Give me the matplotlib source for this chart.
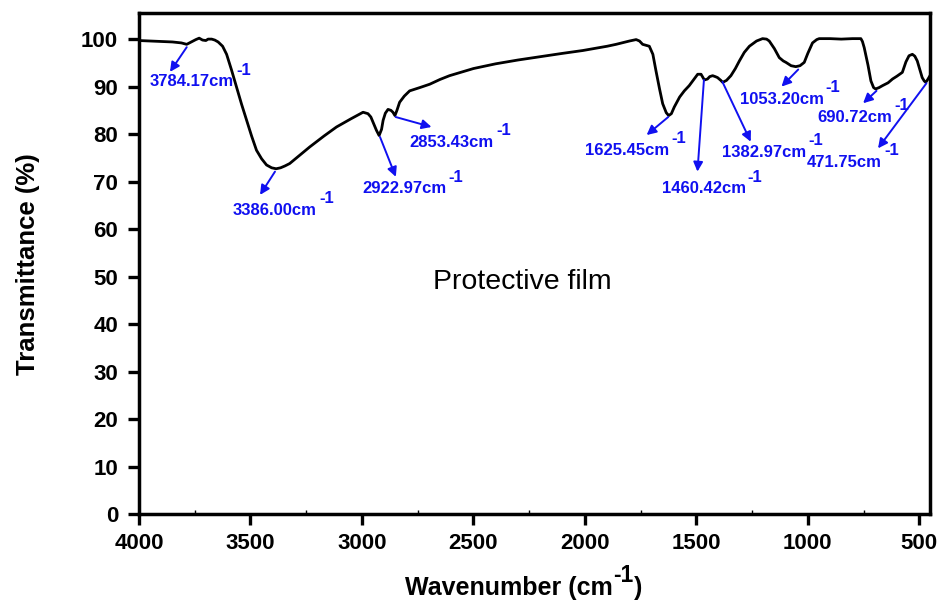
import numpy as np
import matplotlib
matplotlib.use("Agg")
import matplotlib.pyplot as plt
from matplotlib.ticker import MultipleLocator

plt.rcParams['font.family'] = ['Liberation Sans', 'DejaVu Sans']

# ---- спектр ----
wavenumber = [
    4000, 3950, 3900, 3850, 3810, 3786, 3765, 3745, 3730, 3715, 3700, 3690,
    3674, 3660, 3645, 3625, 3607, 3585, 3562, 3540, 3517, 3495, 3473, 3450,
    3428, 3405, 3385, 3365, 3345, 3324, 3280, 3234, 3170, 3114, 3050, 2995,
    2973, 2960, 2950, 2935, 2923, 2912, 2905, 2895, 2883, 2870, 2861, 2852,
    2843, 2831, 2810, 2786, 2740, 2696, 2650, 2607, 2500, 2400, 2300, 2200,
    2100, 2009, 1900, 1860, 1800, 1770, 1755, 1741, 1711, 1695, 1681, 1665,
    1651, 1635, 1624, 1612, 1599, 1575, 1554, 1532, 1510, 1494, 1479, 1464,
    1450, 1440, 1427, 1415, 1405, 1390, 1382, 1365, 1345, 1325, 1307, 1285,
    1262, 1230, 1203, 1185, 1173, 1150, 1128, 1110, 1098, 1075, 1054, 1035,
    1016, 1000, 979, 960, 949, 900, 850, 800, 762, 755, 747, 730, 717, 705,
    696, 680, 665, 640, 620, 600, 576, 560, 546, 531, 520, 509, 497, 487,
    478, 471, 462, 452]
transmittance = [
    99.7, 99.6, 99.5, 99.4, 99.2, 98.9, 99.4, 99.9, 100.2, 99.8, 99.7, 100.0,
    100.0, 99.8, 99.4, 98.5, 96.8, 93.5, 89.8, 86.3, 82.9, 79.6, 76.6, 74.8,
    73.5, 72.9, 72.7, 72.9, 73.3, 73.8, 75.5, 77.3, 79.6, 81.5, 83.2, 84.6,
    84.3, 83.6, 82.5, 80.8, 79.7, 81.0, 82.9, 84.4, 85.2, 85.0, 84.6, 83.9,
    85.0, 86.7, 88.0, 89.1, 89.8, 90.5, 91.5, 92.3, 93.8, 94.8, 95.6, 96.3,
    97.0, 97.6, 98.5, 98.9, 99.6, 99.9, 99.6, 98.9, 98.5, 96.8, 93.3, 89.5,
    86.4, 84.5, 83.9, 84.3, 85.7, 87.8, 89.1, 90.2, 91.6, 92.6, 92.6, 91.4,
    91.6, 92.1, 92.3, 92.1, 91.9, 91.3, 90.9, 91.3, 92.3, 93.8, 95.4, 97.2,
    98.5, 99.6, 100.1, 100.0, 99.6, 98.0, 96.1, 95.4, 95.1, 94.4, 94.2, 94.4,
    95.1, 97.0, 99.2, 99.9, 100.1, 100.1, 100.0, 100.1, 100.1, 99.5, 98.2,
    94.5, 91.2, 89.8, 89.5, 89.8, 90.2, 90.8, 91.6, 92.2, 93.0, 95.2, 96.5,
    96.8, 96.4, 95.4, 93.5, 91.9, 91.2, 90.9, 91.5, 92.3]

# ---- подписи пиков ----
peak_labels = ["3784.17", "3386.00", "2922.97", "2853.43", "1625.45",
               "1460.42", "1382.97", "1053.20", "690.72", "471.75"]
# начало стрелки (на кривой) и конец стрелки
arrow_tail = [(3786, 98.3), (3390, 72.1), (2919, 79.4), (2849, 83.6),
              (1626, 83.6), (1466, 91.4), (1383, 91.0), (1043, 93.6),
              (692, 89.1), (468, 90.7)]
arrow_head = [(3861, 93.1), (3457, 67.2), (2848, 71.0), (2688, 81.5),
              (1723, 79.8), (1495, 72.1), (1256, 78.4), (1118, 90.0),
              (752, 86.5), (685, 77.0)]
label_pos = [(3951, 91.0), (3578, 64.0), (3000, 68.5), (2785, 78.3),
             (2000, 76.6), (1655, 68.5), (1386, 76.2), (1305, 87.3),
             (955, 83.5), (1004, 74.1)]

BLUE = '#1010f0'

fig = plt.figure(figsize=(9.43, 6.07), dpi=100)
ax = fig.add_axes([0.1474, 0.1532, 0.8388, 0.8254])

ax.plot(wavenumber, transmittance, color='black', lw=2.0)

for name, tail, head, lp in zip(peak_labels, arrow_tail, arrow_head, label_pos):
    ax.annotate('', xy=head, xytext=tail,
                arrowprops=dict(arrowstyle='-|>', color=BLUE, lw=1.4,
                                mutation_scale=14, shrinkA=0, shrinkB=0))
    txt = ax.text(lp[0], lp[1], name + 'cm', color=BLUE, fontsize=12,
                  fontweight='bold', ha='left', va='center')
    # степень -1 сразу за "cm"
    ax.annotate('-1', xy=(1, 1), xycoords=txt, xytext=(1.5, 3),
                textcoords='offset points', color=BLUE, fontsize=12,
                fontweight='bold', ha='left', va='center')

ax.text(2682, 48.8, 'Protective film', fontsize=20.5, ha='left', va='center')

ax.set_xlim(4000, 452)
ax.set_ylim(0, 105.5)
ax.xaxis.set_major_locator(MultipleLocator(500))
ax.xaxis.set_minor_locator(MultipleLocator(250))
ax.yaxis.set_major_locator(MultipleLocator(10))

for sp_ in ax.spines.values():
    sp_.set_linewidth(2.5)
ax.tick_params(which='major', direction='out', length=8, width=2.4,
               labelsize=16)
ax.tick_params(axis='y', which='major', pad=7)
ax.tick_params(axis='x', which='major', pad=6)
ax.tick_params(axis='x', which='minor', direction='in', length=3, width=1)
for lab in ax.get_xticklabels() + ax.get_yticklabels():
    lab.set_fontweight('bold')

ax.set_ylabel('Transmittance (%)', fontsize=18.5, fontweight='bold')
ax.yaxis.set_label_coords(-0.125, 0.499)

# подпись оси X собрана из частей, чтобы степень была крупной
xl = fig.text(405 / 943, 0.02, 'Wavenumber (cm', fontsize=18,
              fontweight='bold', ha='left', va='baseline')
sup = ax.annotate('-1', xy=(1, 0), xycoords=xl, xytext=(0.5, 9.5),
                  textcoords='offset points', fontsize=16.5, fontweight='bold',
                  ha='left', va='bottom')
ax.annotate(')', xy=(1, 0), xycoords=(sup, xl), xytext=(0.5, 0),
            textcoords='offset points', fontsize=18, fontweight='bold',
            ha='left', va='bottom')

fig.savefig('out.png', dpi=100)
